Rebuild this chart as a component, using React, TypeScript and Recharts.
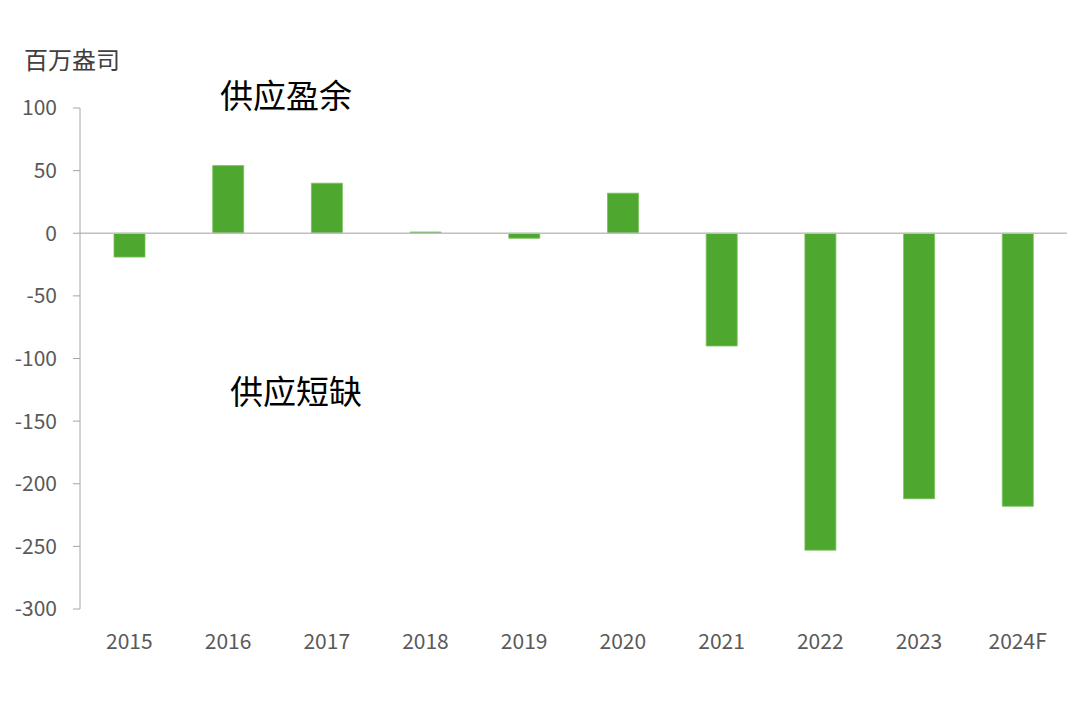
import { BarChart, Bar, XAxis, YAxis, ReferenceLine } from "recharts";

const years = ["2015", "2016", "2017", "2018", "2019", "2020", "2021", "2022", "2023", "2024F"];
const balance = [-19, 54, 40, 1, -4, 32, -90, -253, -212, -218];
const yTicks = [-300, -250, -200, -150, -100, -50, 0, 50, 100];

const data = years.map((y, i) => ({ year: y, value: balance[i] }));

const font = '"Noto Sans CJK SC", "Noto Sans", sans-serif';

export default function App() {
  return (
    <div style={{ position: "absolute", left: 0, top: 0, width: 1080, height: 706, background: "#fff", fontFamily: font }}>
      <BarChart width={1080} height={706} data={data} margin={{ top: 108, right: 13, left: 0, bottom: 0 }}>
        <XAxis
          dataKey="year"
          axisLine={false}
          tickLine={false}
          tickMargin={19}
          height={97}
          tick={{ fill: "#595959", fontSize: 21, fontFamily: font }}
        />
        <YAxis
          domain={[-300, 100]}
          ticks={yTicks}
          width={80}
          tickSize={7}
          tickMargin={16}
          axisLine={{ stroke: "#a6a6a6" }}
          tickLine={{ stroke: "#a6a6a6" }}
          tick={{ fill: "#595959", fontSize: 21, fontFamily: font }}
        />
        <ReferenceLine y={0} stroke="#bfbfbf" strokeWidth={1.5} />
        <Bar dataKey="value" fill="#4ea72e" stroke="#79c05a" strokeWidth={0.8} barSize={31} isAnimationActive={false} />
      </BarChart>
      <div style={{ position: "absolute", left: 24, top: 42, fontSize: 24, color: "#404040", lineHeight: "34px" }}>百万盎司</div>
      <div style={{ position: "absolute", left: 220, top: 73, fontSize: 33, color: "#000", lineHeight: "42px" }}>供应盈余</div>
      <div style={{ position: "absolute", left: 230, top: 369, fontSize: 33, color: "#000", lineHeight: "42px" }}>供应短缺</div>
    </div>
  );
}
